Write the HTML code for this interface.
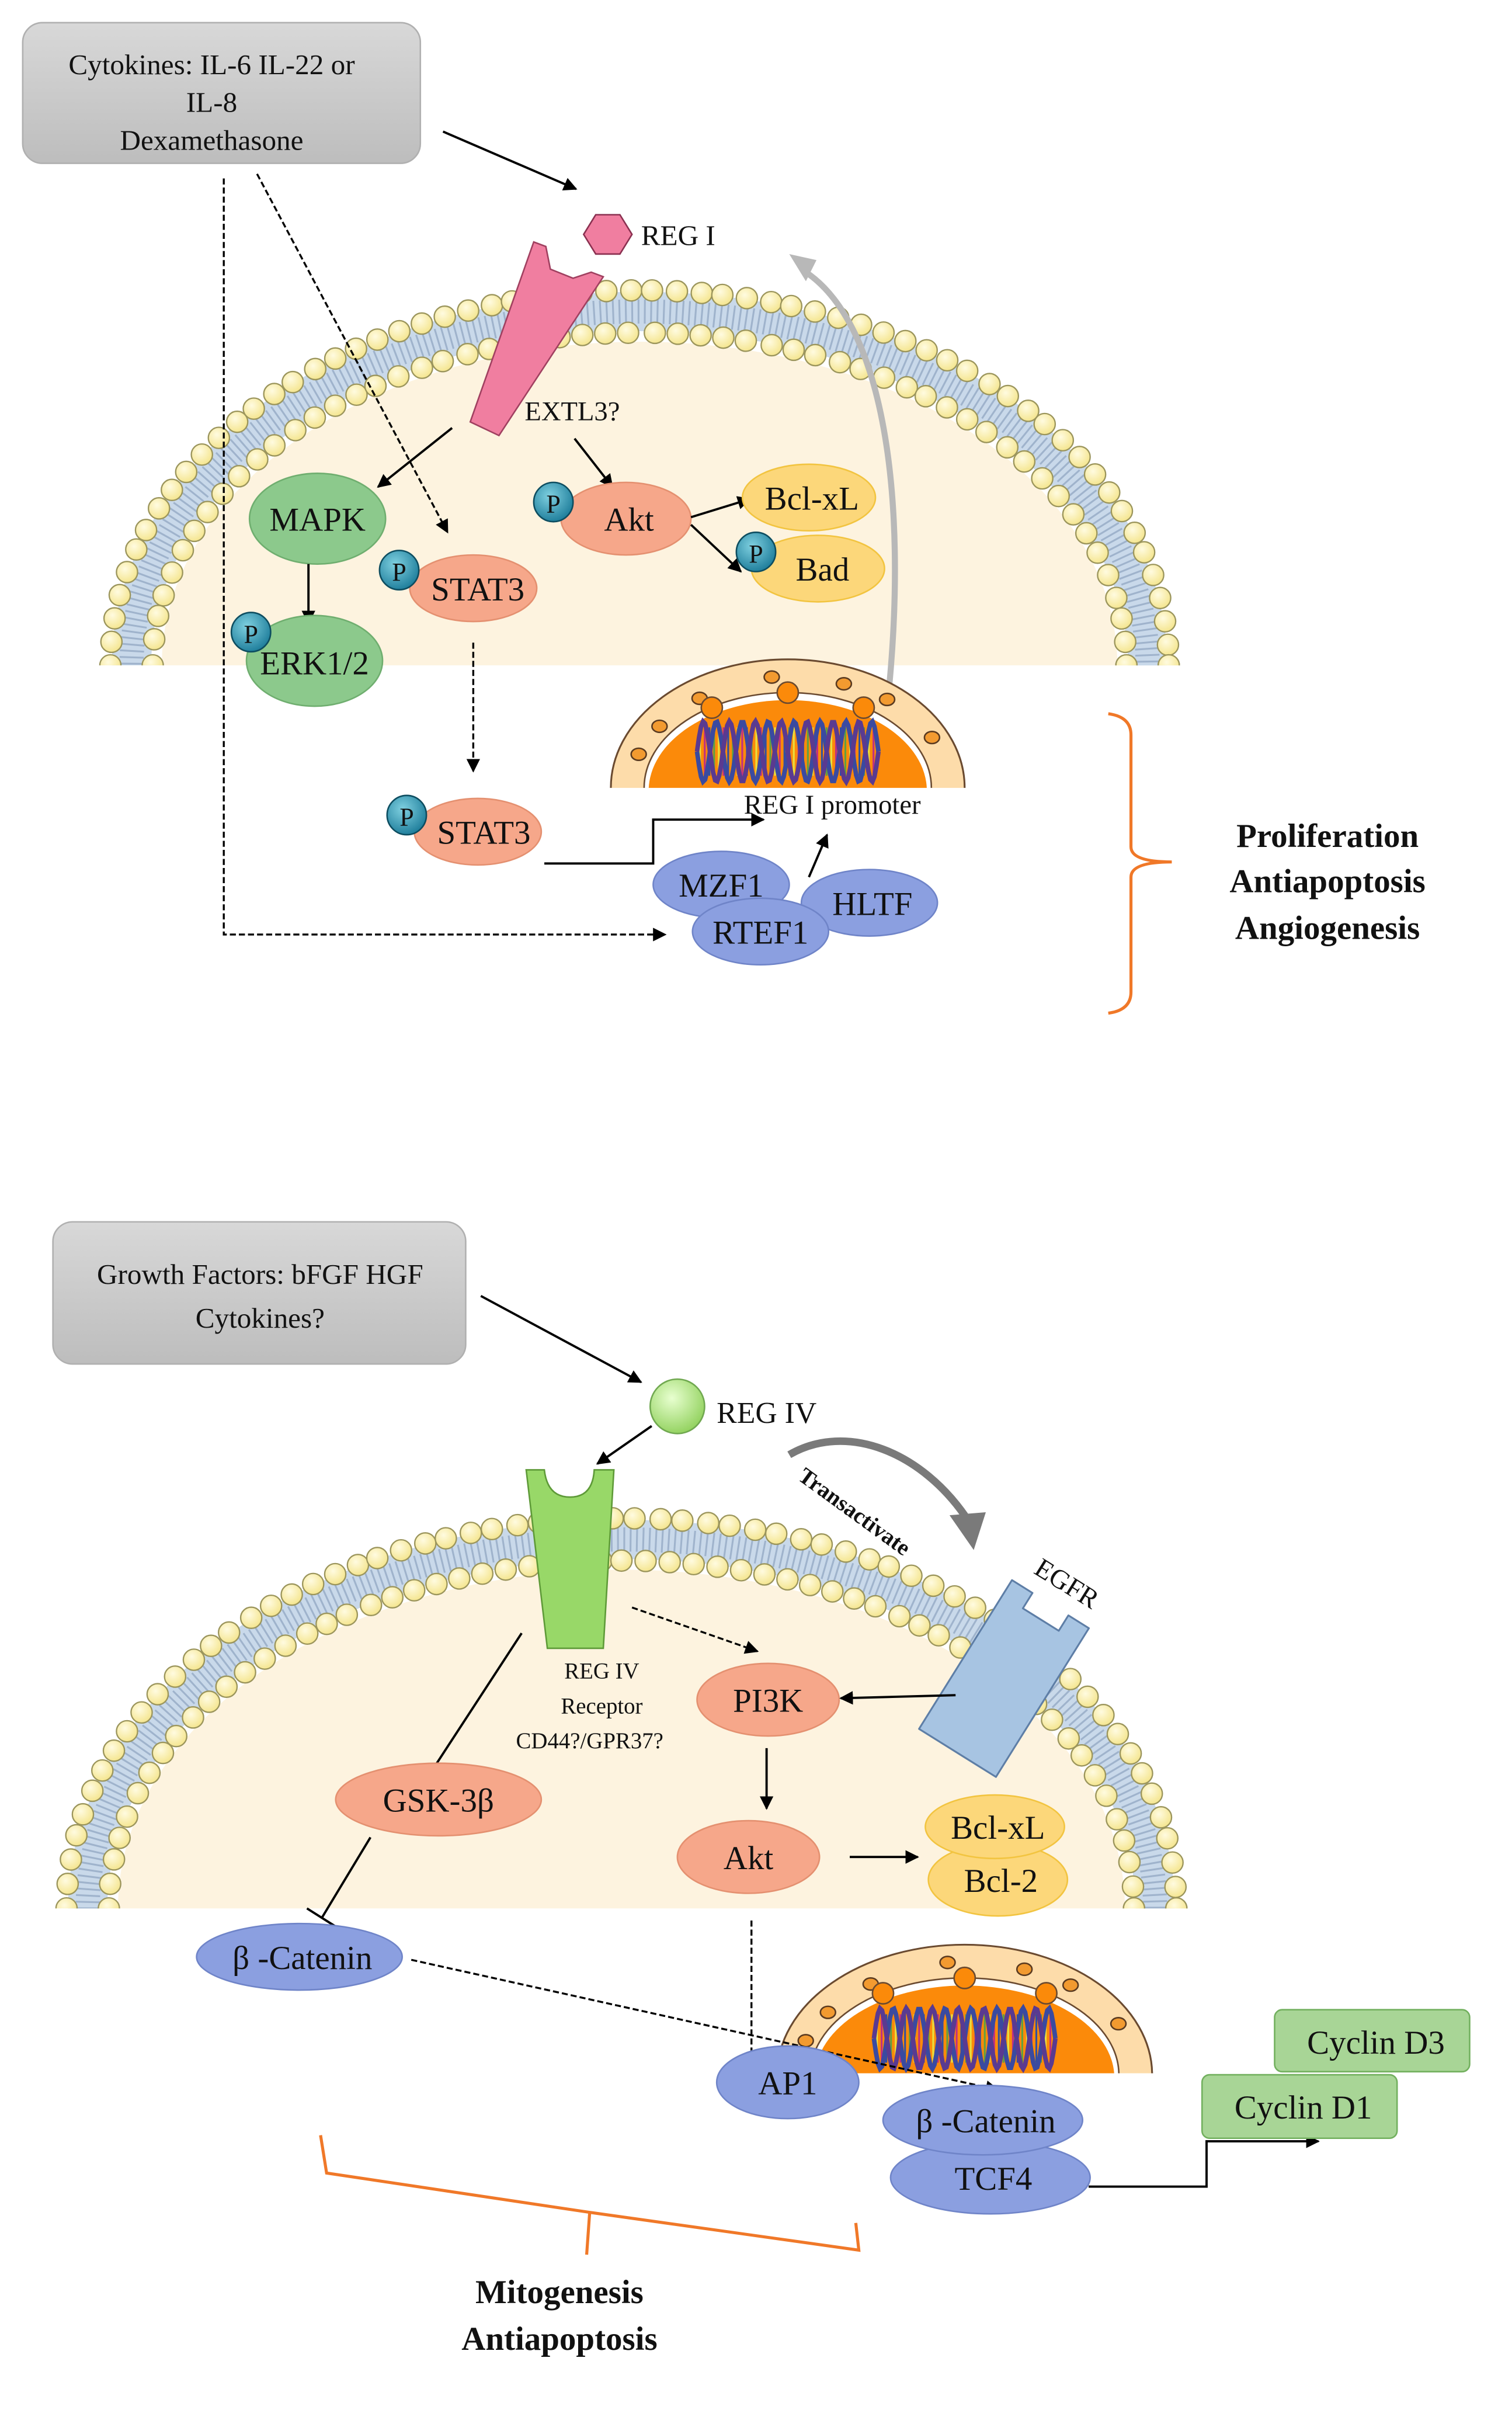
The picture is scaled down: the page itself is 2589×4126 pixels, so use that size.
<!DOCTYPE html>
<html><head><meta charset="utf-8">
<style>
html,body{margin:0;padding:0;background:#fff;}
svg{display:block;}
text{font-family:"Liberation Serif",serif;fill:#111;}
</style></head>
<body>
<svg id="s" width="2589" height="4126" viewBox="0 0 1000 1593.7" xmlns="http://www.w3.org/2000/svg">
<defs>
<marker id="ar" viewBox="0 0 10 10" refX="9" refY="5" markerWidth="9" markerHeight="9" markerUnits="userSpaceOnUse" orient="auto"><path d="M0,0 L10,5 L0,10 z" fill="#000"/></marker>
<linearGradient id="gbox" x1="0" y1="0" x2="0" y2="1"><stop offset="0" stop-color="#d8d8d8"/><stop offset="1" stop-color="#bdbdbd"/></linearGradient>
<radialGradient id="gp" cx="0.4" cy="0.35" r="0.7"><stop offset="0" stop-color="#7fd0e0"/><stop offset="1" stop-color="#1a7a98"/></radialGradient>
<radialGradient id="gb" cx="0.4" cy="0.35" r="0.7"><stop offset="0" stop-color="#fffbe0"/><stop offset="1" stop-color="#f4e48a"/></radialGradient>
<radialGradient id="gg" cx="0.4" cy="0.35" r="0.7"><stop offset="0" stop-color="#e8ffd0"/><stop offset="1" stop-color="#8fd05a"/></radialGradient>
<clipPath id="c1"><rect x="0" y="0" width="1000" height="440"/></clipPath>
<clipPath id="c2"><rect x="0" y="700" width="1000" height="562"/></clipPath>
<clipPath id="n1"><rect x="0" y="400" width="1000" height="121"/></clipPath>
<clipPath id="n2"><rect x="0" y="1250" width="1000" height="121"/></clipPath>
</defs>

<g id="mem1" clip-path="url(#c1)"></g>
<g id="mem2" clip-path="url(#c2)"></g>

<rect x="15" y="15" width="263" height="93" rx="13" fill="url(#gbox)" stroke="#b0b0b0"/>
<text x="140" y="49" font-size="19" text-anchor="middle">Cytokines:  IL-6 IL-22 or</text>
<text x="140" y="74" font-size="19" text-anchor="middle">IL-8</text>
<text x="140" y="99" font-size="19" text-anchor="middle">Dexamethasone</text>

<line x1="293" y1="87" x2="381" y2="125" stroke="#000" stroke-width="1.5" marker-end="url(#ar)"/>
<polygon points="394,142 410,142 418,155 410,168 394,168 386,155" fill="#f07ea0" stroke="#8a3050" stroke-width="1"/>
<text x="424" y="162" font-size="19">REG I</text>

<polygon points="353,160 361,163 364,178 379,184 391,180 399,183 330,288 311,279" fill="#f07ea0" stroke="#a04060" stroke-width="1"/>

<path d="M588,455 C600,330 585,215 533,180" fill="none" stroke="#b8b8b8" stroke-width="4"/>
<path d="M522,168 L540,172 L533,186 z" fill="#b8b8b8"/>

<path d="M148,118 L148,618 L440,618" fill="none" stroke="#000" stroke-width="1.3" stroke-dasharray="4,2" marker-end="url(#ar)"/>
<line x1="170" y1="115" x2="296" y2="352" stroke="#000" stroke-width="1.3" stroke-dasharray="4,2" marker-end="url(#ar)"/>
<line x1="299" y1="283" x2="250" y2="322" stroke="#000" stroke-width="1.5" marker-end="url(#ar)"/>
<text x="347" y="278" font-size="18">EXTL3?</text>
<line x1="380" y1="290" x2="405" y2="322" stroke="#000" stroke-width="1.5" marker-end="url(#ar)"/>

<ellipse cx="210" cy="343" rx="45" ry="30" fill="#8cc98c" stroke="#6fae6f"/>
<text x="210" y="351" font-size="22" text-anchor="middle">MAPK</text>
<line x1="204" y1="373" x2="204" y2="412" stroke="#000" stroke-width="1.5" marker-end="url(#ar)"/>
<ellipse cx="208" cy="437" rx="45" ry="30" fill="#8cc98c" stroke="#6fae6f"/>
<text x="208" y="446" font-size="22" text-anchor="middle">ERK1/2</text>
<circle cx="166" cy="418" r="13" fill="url(#gp)" stroke="#0d4d60"/><text x="166" y="425" font-size="17" text-anchor="middle">P</text>

<ellipse cx="313" cy="389" rx="42" ry="22" fill="#f6a78a" stroke="#e49070"/>
<text x="316" y="397" font-size="22" text-anchor="middle">STAT3</text>
<circle cx="264" cy="377" r="13" fill="url(#gp)" stroke="#0d4d60"/><text x="264" y="384" font-size="17" text-anchor="middle">P</text>
<line x1="313" y1="425" x2="313" y2="510" stroke="#000" stroke-width="1.3" stroke-dasharray="4,2" marker-end="url(#ar)"/>

<ellipse cx="316" cy="550" rx="42" ry="22" fill="#f6a78a" stroke="#e49070"/>
<text x="320" y="558" font-size="22" text-anchor="middle">STAT3</text>
<circle cx="269" cy="539" r="13" fill="url(#gp)" stroke="#0d4d60"/><text x="269" y="546" font-size="17" text-anchor="middle">P</text>
<path d="M360,571 L432,571 L432,542 L505,542" fill="none" stroke="#000" stroke-width="1.5" marker-end="url(#ar)"/>

<ellipse cx="414" cy="343" rx="43" ry="24" fill="#f6a78a" stroke="#e49070"/>
<text x="416" y="351" font-size="22" text-anchor="middle">Akt</text>
<circle cx="366" cy="332" r="13" fill="url(#gp)" stroke="#0d4d60"/><text x="366" y="339" font-size="17" text-anchor="middle">P</text>
<line x1="457" y1="342" x2="496" y2="330" stroke="#000" stroke-width="1.5" marker-end="url(#ar)"/>
<line x1="457" y1="347" x2="490" y2="378" stroke="#000" stroke-width="1.5" marker-end="url(#ar)"/>
<ellipse cx="535" cy="329" rx="44" ry="22" fill="#fcd77a" stroke="#f2c440"/>
<text x="537" y="337" font-size="22" text-anchor="middle">Bcl-xL</text>
<ellipse cx="541" cy="376" rx="44" ry="22" fill="#fcd77a" stroke="#f2c440"/>
<text x="544" y="384" font-size="22" text-anchor="middle">Bad</text>
<circle cx="500" cy="365" r="13" fill="url(#gp)" stroke="#0d4d60"/><text x="500" y="372" font-size="17" text-anchor="middle">P</text>

<g id="nuc1" clip-path="url(#n1)"></g>
<text x="492" y="538" font-size="18">REG I promoter</text>
<line x1="535" y1="580" x2="547" y2="552" stroke="#000" stroke-width="1.5" marker-end="url(#ar)"/>

<ellipse cx="477" cy="585" rx="45" ry="22" fill="#8b9fe0" stroke="#6f84c8"/>
<text x="477" y="593" font-size="22" text-anchor="middle">MZF1</text>
<ellipse cx="575" cy="597" rx="45" ry="22" fill="#8b9fe0" stroke="#6f84c8"/>
<text x="577" y="605" font-size="22" text-anchor="middle">HLTF</text>
<ellipse cx="503" cy="616" rx="45" ry="22" fill="#8b9fe0" stroke="#6f84c8"/>
<text x="503" y="624" font-size="22" text-anchor="middle">RTEF1</text>

<path d="M733,472 Q748,474 748,486 L748,560 Q748,570 775,570 Q748,570 748,580 L748,656 Q748,668 733,670" fill="none" stroke="#f07828" stroke-width="2"/>
<text x="878" y="560" font-size="22" font-weight="bold" text-anchor="middle">Proliferation</text>
<text x="878" y="590" font-size="22" font-weight="bold" text-anchor="middle">Antiapoptosis</text>
<text x="878" y="621" font-size="22" font-weight="bold" text-anchor="middle">Angiogenesis</text>

<rect x="35" y="808" width="273" height="94" rx="13" fill="url(#gbox)" stroke="#b0b0b0"/>
<text x="172" y="849" font-size="19" text-anchor="middle">Growth Factors: bFGF HGF</text>
<text x="172" y="878" font-size="19" text-anchor="middle">Cytokines?</text>
<line x1="318" y1="857" x2="424" y2="914" stroke="#000" stroke-width="1.5" marker-end="url(#ar)"/>
<circle cx="448" cy="930" r="18" fill="url(#gg)" stroke="#70a850"/>
<text x="474" y="941" font-size="20">REG IV</text>
<line x1="431" y1="943" x2="395" y2="968" stroke="#000" stroke-width="1.5" marker-end="url(#ar)"/>

<path d="M348,972 L360,972 Q362,990 377,990 Q392,990 393,972 L406,972 L399,1090 L362,1090 z" fill="#98d868" stroke="#5e9a38" stroke-width="1"/>

<path d="M522,962 C560,940 610,960 640,1005" fill="none" stroke="#7a7a7a" stroke-width="5"/>
<path d="M628,1002 L652,1000 L644,1025 z" fill="#7a7a7a"/>
<text x="0" y="0" font-size="15" font-weight="bold" transform="translate(527,978) rotate(36)">Transactivate</text>
<text x="0" y="0" font-size="18" transform="translate(683,1040) rotate(32)">EGFR</text>

<g transform="translate(664,1110) rotate(32)">
<path d="M-30,-58 L-14,-58 L-14,-46 L14,-46 L14,-58 L30,-58 L30,58 L-30,58 z" fill="#a7c4e2" stroke="#5e7ea6" stroke-width="1.2" stroke-linejoin="round"/>
</g>

<text x="398" y="1110" font-size="15" text-anchor="middle">REG  IV</text>
<text x="398" y="1133" font-size="15" text-anchor="middle">Receptor</text>
<text x="390" y="1156" font-size="15" text-anchor="middle">CD44?/GPR37?</text>

<line x1="345" y1="1080" x2="283" y2="1175" stroke="#000" stroke-width="1.5" marker-end="url(#ar)"/>
<line x1="418" y1="1063" x2="501" y2="1092" stroke="#000" stroke-width="1.3" stroke-dasharray="4,2" marker-end="url(#ar)"/>
<ellipse cx="508" cy="1124" rx="47" ry="24" fill="#f6a78a" stroke="#e49070"/>
<text x="508" y="1132" font-size="22" text-anchor="middle">PI3K</text>
<line x1="632" y1="1121" x2="556" y2="1123" stroke="#000" stroke-width="1.5" marker-end="url(#ar)"/>
<line x1="507" y1="1156" x2="507" y2="1196" stroke="#000" stroke-width="1.5" marker-end="url(#ar)"/>
<ellipse cx="495" cy="1228" rx="47" ry="24" fill="#f6a78a" stroke="#e49070"/>
<text x="495" y="1236" font-size="22" text-anchor="middle">Akt</text>
<line x1="562" y1="1228" x2="607" y2="1228" stroke="#000" stroke-width="1.5" marker-end="url(#ar)"/>
<ellipse cx="660" cy="1243" rx="46" ry="24" fill="#fcd77a" stroke="#f2c440"/>
<text x="662" y="1251" font-size="22" text-anchor="middle">Bcl-2</text>
<ellipse cx="658" cy="1208" rx="46" ry="21" fill="#fcd77a" stroke="#f2c440"/>
<text x="660" y="1216" font-size="22" text-anchor="middle">Bcl-xL</text>

<ellipse cx="290" cy="1190" rx="68" ry="24" fill="#f6a78a" stroke="#e49070"/>
<text x="290" y="1198" font-size="22" text-anchor="middle">GSK-3β</text>
<line x1="245" y1="1215" x2="213" y2="1268" stroke="#000" stroke-width="1.5"/>
<line x1="203" y1="1262" x2="222" y2="1274" stroke="#000" stroke-width="1.5"/>
<ellipse cx="198" cy="1294" rx="68" ry="22" fill="#8b9fe0" stroke="#6f84c8"/>
<text x="200" y="1302" font-size="22" text-anchor="middle">β -Catenin</text>

<g id="nuc2" clip-path="url(#n2)"></g>

<line x1="497" y1="1270" x2="497" y2="1370" stroke="#000" stroke-width="1.3" stroke-dasharray="4,2" marker-end="url(#ar)"/>
<line x1="272" y1="1296" x2="660" y2="1382" stroke="#000" stroke-width="1.3" stroke-dasharray="4,2" marker-end="url(#ar)"/>
<ellipse cx="521" cy="1377" rx="47" ry="24" fill="#8b9fe0" stroke="#6f84c8"/>
<text x="521" y="1385" font-size="22" text-anchor="middle">AP1</text>
<ellipse cx="655" cy="1440" rx="66" ry="24" fill="#8b9fe0" stroke="#6f84c8"/>
<text x="657" y="1448" font-size="22" text-anchor="middle">TCF4</text>
<ellipse cx="650" cy="1402" rx="66" ry="23" fill="#8b9fe0" stroke="#6f84c8"/>
<text x="652" y="1410" font-size="22" text-anchor="middle">β -Catenin</text>

<path d="M720,1446 L798,1446 L798,1416 L872,1416" fill="none" stroke="#000" stroke-width="1.5" marker-end="url(#ar)"/>
<rect x="843" y="1329" width="129" height="41" rx="5" fill="#a8d596" stroke="#72b05e"/>
<text x="910" y="1358" font-size="22" text-anchor="middle">Cyclin D3</text>
<rect x="795" y="1372" width="129" height="42" rx="5" fill="#a8d596" stroke="#72b05e"/>
<text x="862" y="1401" font-size="22" text-anchor="middle">Cyclin D1</text>

<path d="M212,1412 L216,1437 L390,1463 L568,1488 L566,1470 M390,1463 L388,1491" fill="none" stroke="#f07828" stroke-width="2"/>
<text x="370" y="1523" font-size="22" font-weight="bold" text-anchor="middle">Mitogenesis</text>
<text x="370" y="1554" font-size="22" font-weight="bold" text-anchor="middle">Antiapoptosis</text>
</svg>
<script>
var NS="http://www.w3.org/2000/svg";
function el(p,t,a){var e=document.createElementNS(NS,t);for(var k in a)e.setAttribute(k,a[k]);p.appendChild(e);return e;}
function membrane(id,cx,cy,rxo,ryo,th){
 var g=document.getElementById(id);
 var rxi=rxo-th, ryi=ryo-th;
 el(g,"ellipse",{cx:cx,cy:cy,rx:rxi-6,ry:ryi-6,fill:"#fdf3df"});
 el(g,"ellipse",{cx:cx,cy:cy,rx:(rxo+rxi)/2,ry:(ryo+ryi)/2,fill:"none",stroke:"#c9d9ea","stroke-width":th-2});
 el(g,"ellipse",{cx:cx,cy:cy,rx:(rxo+rxi)/2,ry:(ryo+ryi)/2,fill:"none",stroke:"#9fb3cc","stroke-width":th-12,"stroke-dasharray":"1.2,3"});
 [[rxo,ryo],[rxi,ryi]].forEach(function(r){
  var n=400,pts=[],L=0,prev=null;
  for(var i=0;i<=n;i++){var a=Math.PI*i/n;var x=cx-r[0]*Math.cos(a),y=cy-r[1]*Math.sin(a);if(prev)L+=Math.hypot(x-prev[0],y-prev[1]);pts.push([x,y,L]);prev=[x,y];}
  var step=15.5,cnt=Math.floor(L/step),k=0;
  for(var j=0;j<=cnt+1;j++){var t=j*L/(cnt);while(k<pts.length-1&&pts[k][2]<t)k++;var p=pts[Math.min(k,pts.length-1)];
   el(g,"circle",{cx:p[0],cy:p[1],r:7,fill:"url(#gb)",stroke:"#9b955c","stroke-width":0.9});}
 });
}
membrane("mem1",423,440,350,248,28);
membrane("mem2",411,1262,367,258,28);
function nucleus(id,cx,cy,rx,ry){
 var g=document.getElementById(id);
 el(g,"ellipse",{cx:cx,cy:cy,rx:rx,ry:ry,fill:"#fddcaa",stroke:"#6a4a30","stroke-width":1.2});
 el(g,"ellipse",{cx:cx,cy:cy,rx:rx-22,ry:ry-22,fill:"#fff",stroke:"#6a4a30","stroke-width":1});
 el(g,"ellipse",{cx:cx,cy:cy+2,rx:rx-25,ry:ry-25,fill:"#fb8a0a"});
 [[-0.8,0.55],[-0.55,0.8],[-0.1,0.99],[0.35,0.93],[0.62,0.79],[0.9,0.45],[-0.93,0.3]].forEach(function(q){
  el(g,"ellipse",{cx:cx+q[0]*(rx-11),cy:cy-q[1]*(ry-11),rx:5,ry:4,fill:"#f29a30",stroke:"#5a3a20","stroke-width":1});
 });
 [-0.6,0,0.6].forEach(function(q){el(g,"circle",{cx:cx+q*(rx-24)*0.9,cy:cy-Math.sqrt(1-q*q*0.81)*(ry-22),r:7,fill:"#fb8a0a",stroke:"#6a4a30","stroke-width":1});});
 var w=120,h=40,dx=cx-w/2,dy=cy-h-4,d1="",d2="";
 for(var i=0;i<=90;i++){var x=dx+w*i/90,s=Math.sin(i/90*Math.PI*14);d1+=(i?"L":"M")+x+","+(dy+h/2+s*h/2);d2+=(i?"L":"M")+x+","+(dy+h/2-s*h/2);}
 for(var i=0;i<38;i++){var x=dx+2+i*3.1;el(g,"line",{x1:x,y1:dy+4,x2:x,y2:dy+h-4,stroke:["#e8e040","#c03080","#3050a0","#60a040"][i%4],"stroke-width":1.2});}
 el(g,"path",{d:d1,fill:"none",stroke:"#3a4aa0","stroke-width":3});
 el(g,"path",{d:d2,fill:"none",stroke:"#5a3a90","stroke-width":3});
}
nucleus("nuc1",521,521,117,85);
nucleus("nuc2",638,1372,124,86);
</script>
</body></html>
